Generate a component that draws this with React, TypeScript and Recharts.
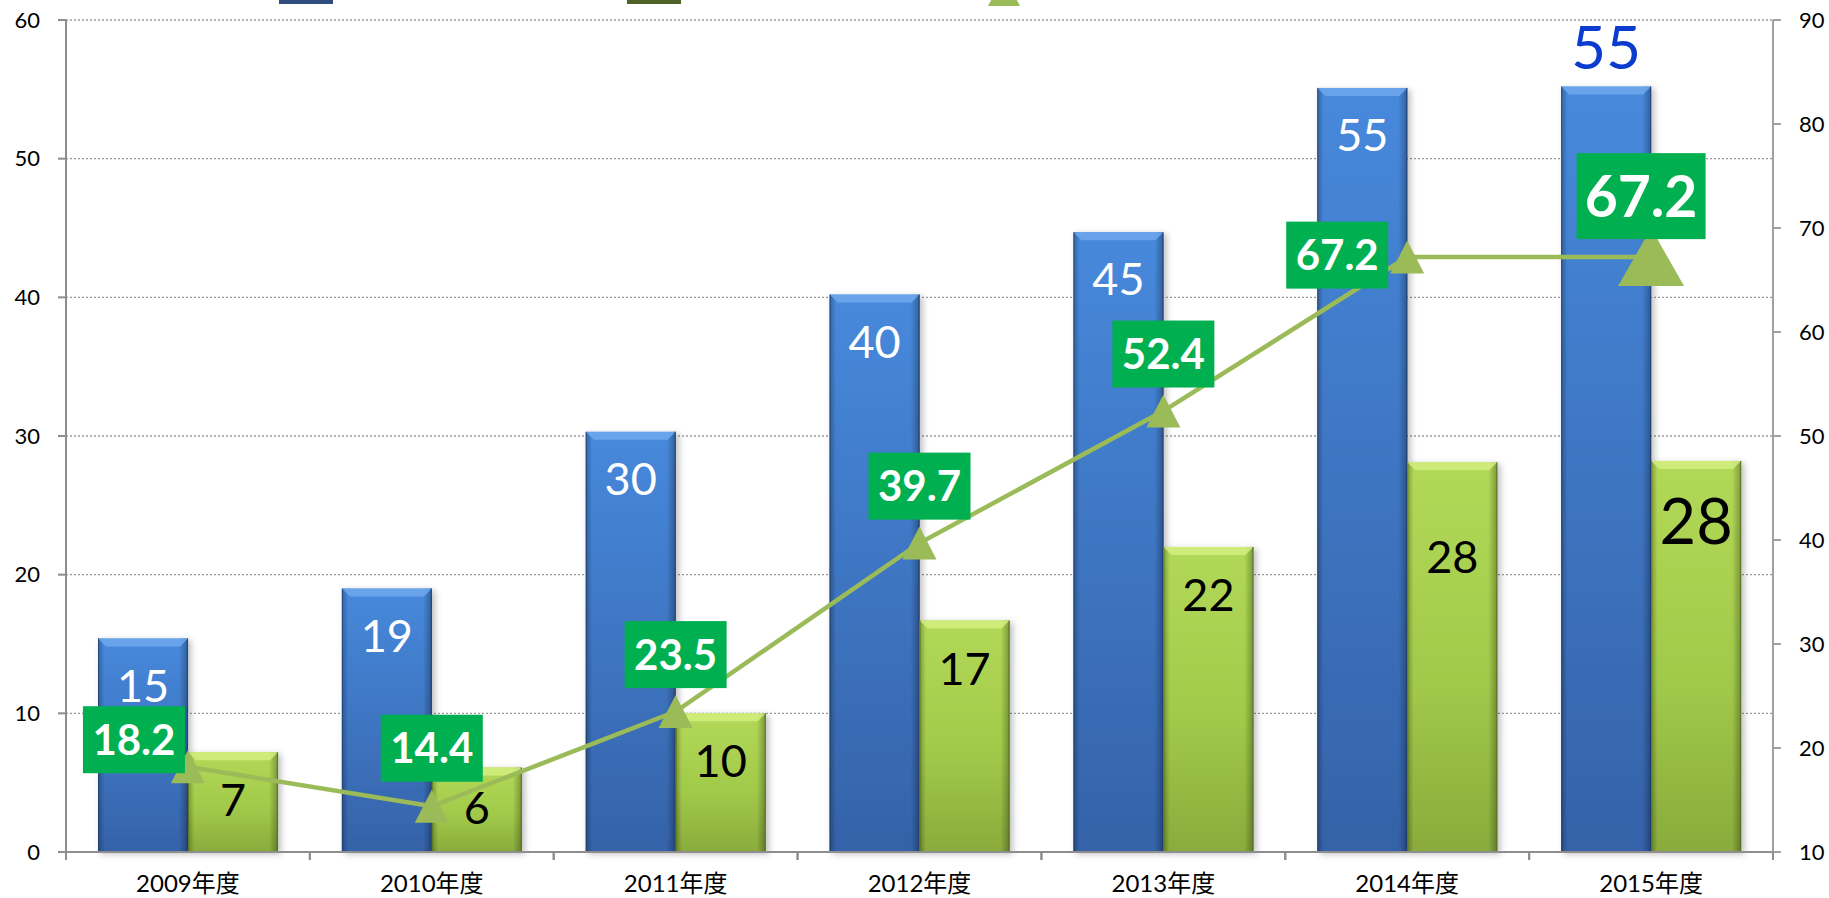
import React from 'react';
import { ComposedChart, Bar, Line, XAxis, YAxis, CartesianGrid, LabelList } from 'recharts';

// ---- data ----
const categories = ['2009年度', '2010年度', '2011年度', '2012年度', '2013年度', '2014年度', '2015年度'];
const blueValues = [15.4, 19, 30.3, 40.2, 44.7, 55.1, 55.2];
const greenValues = [7.2, 6.1, 10, 16.7, 22, 28.1, 28.2];
const rateValues = [18.2, 14.4, 23.5, 39.7, 52.4, 67.2, 67.2];
const leftTicks = [0, 10, 20, 30, 40, 50, 60];
const rightTicks = [10, 20, 30, 40, 50, 60, 70, 80, 90];

// ---- layout / style config ----
const W = 1829;
const H = 898;
const LEFT_W = 66;
const RIGHT_W = 56;
const BAND = (W - LEFT_W - RIGHT_W) / categories.length;
const EMPHASIS = 6;
const RATE_LABEL_SHIFT: [number, number][] = [[-54, -27], [0, -58], [0, -57], [0, -57], [0, -57], [-70, -2], [-10, -61]];
const GREEN_LABEL_DY = [48, 40, 47, 48, 48, 94, 60];
const FONT = 'Lato, "Noto Sans CJK JP", sans-serif';

const rows = categories.map((c, i) => ({ name: c, blue: blueValues[i], green: greenValues[i], rate: rateValues[i] }));

const makeBarShape = (kind: 'blue' | 'green') => (props: any) => {
  const { x, y, width, height } = props;
  if (!height || height <= 0) return null;
  const b = 8;
  const bevel = kind === 'blue' ? '#72ABEE' : '#D6F083';
  const edge = kind === 'blue' ? '#1E3F73' : '#55701E';
  return (
    <g filter="url(#barShadow)">
      <rect x={x} y={y} width={width} height={height} fill={`url(#${kind}V)`} />
      <rect x={x} y={y} width={width} height={height} fill="url(#edgeH)" />
      <polygon points={`${x},${y} ${x + width},${y} ${x + width - b},${y + b} ${x + b},${y + b}`} fill={bevel} opacity={0.8} />
      <line x1={x + 0.5} y1={y} x2={x + 0.5} y2={y + height} stroke={edge} strokeWidth={1} opacity={0.7} />
      <line x1={x + width - 0.5} y1={y} x2={x + width - 0.5} y2={y + height} stroke={edge} strokeWidth={1.2} opacity={0.8} />
    </g>
  );
};

const BlueLabel = (props: any) => {
  const { x, y, width, value, index } = props;
  const cx = x + width / 2;
  const txt = String(Math.round(value));
  if (index === EMPHASIS) {
    const f = 60;
    return (
      <text x={cx} y={y - 39 + 0.36 * f} textAnchor="middle" fontFamily={FONT} fontSize={f} fill="#0B3CCF">
        {txt}
      </text>
    );
  }
  const f = 45;
  return (
    <text x={cx} y={y + 47 + 0.36 * f} textAnchor="middle" fontFamily={FONT} fontSize={f} fill="#FFFFFF">
      {txt}
    </text>
  );
};

const GreenLabel = (props: any) => {
  const { x, y, width, value, index } = props;
  const cx = x + width / 2;
  const f = index === EMPHASIS ? 63 : 45;
  return (
    <text x={cx} y={y + GREEN_LABEL_DY[index] + 0.36 * f} textAnchor="middle" fontFamily={FONT} fontSize={f} fill="#000000">
      {String(Math.round(value))}
    </text>
  );
};

const RateLabel = (props: any) => {
  const { x, y, value, index } = props;
  const big = index === EMPHASIS;
  const bw = big ? 129 : 102;
  const bh = big ? 86 : 67;
  const f = big ? 57 : 42;
  const [dx, dy] = RATE_LABEL_SHIFT[index];
  const cx = x + dx;
  const cy = y + dy;
  return (
    <g>
      <rect x={cx - bw / 2} y={cy - bh / 2} width={bw} height={bh} fill="#00B050" />
      <text x={cx} y={cy + 0.36 * f} textAnchor="middle" fontFamily={FONT} fontWeight={700} fontSize={f} fill="#FFFFFF">
        {Number(value).toFixed(1)}
      </text>
    </g>
  );
};

const TriangleDot = (props: any) => {
  const { cx, cy, index } = props;
  if (cx == null || cy == null) return null;
  const big = index === EMPHASIS;
  const w = big ? 66 : 34;
  const h = big ? 58 : 33;
  return (
    <polygon
      key={`tri-${index}`}
      points={`${cx},${cy - h / 2} ${cx + w / 2},${cy + h / 2} ${cx - w / 2},${cy + h / 2}`}
      fill="#9BBB59"
    />
  );
};

const XTick = (props: any) => {
  const { x, y, payload } = props;
  const axisY = y - 23;
  return (
    <g>
      <line x1={x - BAND / 2} y1={axisY} x2={x - BAND / 2} y2={axisY + 8} stroke="#8E8E8E" strokeWidth={2} />
      <line x1={x + BAND / 2} y1={axisY} x2={x + BAND / 2} y2={axisY + 8} stroke="#8E8E8E" strokeWidth={2} />
      <text x={x} y={y} dy="0.71em" textAnchor="middle" fontFamily={FONT} fontSize={24} fill="#000">
        {payload.value}
      </text>
    </g>
  );
};

export default function App() {
  return (
    <div style={{ position: 'absolute', left: 0, top: 0, width: W, height: H, background: '#fff', overflow: 'hidden' }}>
      <div style={{ position: 'absolute', left: 279, top: 0, width: 54, height: 4, background: '#2F4E7E' }} />
      <div style={{ position: 'absolute', left: 627, top: 0, width: 54, height: 4, background: '#4F6228' }} />
      <div style={{ position: 'absolute', left: 988, top: 0, width: 32, height: 6, background: '#9BBB59', clipPath: 'polygon(10% 0, 90% 0, 100% 100%, 0 100%)' }} />
      <ComposedChart
        width={W}
        height={H}
        data={rows}
        margin={{ top: 20, right: 0, bottom: 0, left: 0 }}
        barGap={0}
        barSize={90}
      >
        <defs>
          <linearGradient id="blueV" x1="0" y1="0" x2="0" y2="1">
            <stop offset="0%" stopColor="#4789DC" />
            <stop offset="100%" stopColor="#3562A8" />
          </linearGradient>
          <linearGradient id="greenV" x1="0" y1="0" x2="0" y2="1">
            <stop offset="0%" stopColor="#B2D857" />
            <stop offset="55%" stopColor="#A2CA4A" />
            <stop offset="100%" stopColor="#8AAB3C" />
          </linearGradient>
          <linearGradient id="edgeH" x1="0" y1="0" x2="1" y2="0">
            <stop offset="0%" stopColor="#000" stopOpacity={0.28} />
            <stop offset="7%" stopColor="#000" stopOpacity={0} />
            <stop offset="90%" stopColor="#000" stopOpacity={0} />
            <stop offset="100%" stopColor="#000" stopOpacity={0.3} />
          </linearGradient>
          <filter id="barShadow" x="-10%" y="-5%" width="125%" height="115%">
            <feDropShadow dx="3" dy="2" stdDeviation="3" floodColor="#000" floodOpacity="0.25" />
          </filter>
        </defs>
        <CartesianGrid yAxisId="left" vertical={false} stroke="#9A9A9A" strokeDasharray="2 2" strokeWidth={1.3} />
        <XAxis
          dataKey="name"
          height={46}
          tickLine={false}
          tickSize={8}
          tickMargin={15}
          axisLine={{ stroke: '#8E8E8E', strokeWidth: 2 }}
          tick={<XTick />}
          interval={0}
        />
        <YAxis
          yAxisId="left"
          width={LEFT_W}
          domain={[0, 60]}
          ticks={leftTicks}
          tickSize={8}
          tickMargin={18}
          axisLine={{ stroke: '#8E8E8E', strokeWidth: 2 }}
          tickLine={{ stroke: '#8E8E8E', strokeWidth: 2 }}
          tick={{ fontFamily: FONT, fontSize: 22, fill: '#000' }}
        />
        <YAxis
          yAxisId="right"
          orientation="right"
          width={RIGHT_W}
          domain={[10, 90]}
          ticks={rightTicks}
          tickSize={8}
          tickMargin={18}
          axisLine={{ stroke: '#A0A0A0', strokeWidth: 2 }}
          tickLine={{ stroke: '#A0A0A0', strokeWidth: 2 }}
          tick={{ fontFamily: FONT, fontSize: 22, fill: '#000' }}
        />
        <Bar yAxisId="left" dataKey="blue" shape={makeBarShape('blue')} isAnimationActive={false}>
          <LabelList dataKey="blue" content={<BlueLabel />} />
        </Bar>
        <Bar yAxisId="left" dataKey="green" shape={makeBarShape('green')} isAnimationActive={false}>
          <LabelList dataKey="green" content={<GreenLabel />} />
        </Bar>
        <Line
          yAxisId="right"
          dataKey="rate"
          stroke="#9BBB59"
          strokeWidth={4.5}
          dot={<TriangleDot />}
          activeDot={false}
          isAnimationActive={false}
        >
          <LabelList dataKey="rate" content={<RateLabel />} />
        </Line>
      </ComposedChart>
    </div>
  );
}
